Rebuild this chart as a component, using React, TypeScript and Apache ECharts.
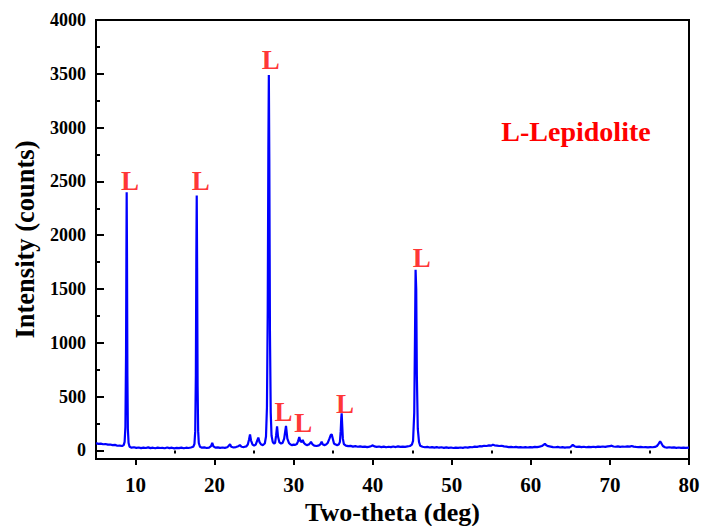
import React, { useEffect, useRef } from "react";
import * as echarts from "echarts";

// [two-theta (deg), intensity (counts)]
const xrdPattern: [number, number][] = [
  [5.0, 68], [5.3, 62], [5.6, 64], [5.9, 58], [6.2, 60], [6.5, 54], [6.8, 56], [7.1, 50], [7.4, 52], [7.7, 44], [8.0, 46], [8.3, 42], [8.5, 50],
  [8.62, 80], [8.72, 220], [8.8, 900], [8.85, 1900], [8.88, 2400], [8.92, 1800], [8.97, 700], [9.03, 200], [9.12, 70], [9.25, 35],
  [9.5, 26], [9.8, 30], [10.1, 24], [10.4, 28], [10.7, 22], [11.0, 27], [11.3, 23], [11.6, 29], [11.9, 22], [12.2, 26], [12.5, 21], [12.8, 27],
  [13.1, 23], [13.4, 25], [13.7, 21], [14.0, 28], [14.3, 22], [14.6, 26], [14.9, 20], [15.2, 25], [15.5, 22], [15.8, 27], [16.1, 21], [16.4, 26],
  [16.7, 23], [17.0, 28], [17.3, 35], [17.45, 60],
  [17.55, 180], [17.63, 700], [17.69, 1800], [17.74, 2370], [17.79, 1700], [17.85, 600], [17.92, 180], [18.0, 70], [18.15, 35],
  [18.4, 26], [18.7, 29], [19.0, 23], [19.3, 27], [19.55, 40], [19.7, 70], [19.85, 38], [20.1, 26], [20.4, 29], [20.7, 24], [21.0, 28],
  [21.3, 25], [21.6, 30], [21.8, 45], [21.95, 58], [22.1, 35], [22.4, 28], [22.7, 32], [23.0, 40], [23.2, 50], [23.4, 35], [23.7, 32],
  [24.0, 38], [24.2, 55], [24.35, 100], [24.48, 150], [24.6, 95], [24.8, 55], [25.0, 45], [25.2, 55], [25.35, 85], [25.53, 120], [25.7, 75],
  [25.9, 55], [26.1, 50], [26.35, 65], [26.5, 130], [26.62, 400], [26.72, 1300], [26.8, 2800], [26.86, 3490], [26.92, 2700], [27.0, 1100],
  [27.1, 350], [27.2, 140], [27.35, 80], [27.5, 65], [27.65, 70], [27.78, 140], [27.9, 225], [28.02, 130], [28.2, 75], [28.4, 65], [28.6, 70],
  [28.8, 110], [29.03, 228], [29.2, 110], [29.4, 70], [29.6, 55], [29.8, 50], [30.0, 55], [30.2, 52], [30.4, 60], [30.55, 85], [30.71, 125],
  [30.85, 85], [31.0, 80], [31.14, 98], [31.3, 70], [31.5, 55], [31.7, 50], [31.9, 55], [32.05, 65], [32.19, 80], [32.35, 60], [32.6, 45],
  [32.9, 42], [33.2, 48], [33.4, 60], [33.54, 82], [33.7, 55], [33.9, 50], [34.1, 55], [34.3, 70], [34.5, 105], [34.7, 145], [34.81, 150],
  [34.95, 110], [35.1, 65], [35.3, 55], [35.5, 50], [35.7, 55], [35.85, 80], [35.95, 180], [36.02, 300], [36.07, 345], [36.13, 250],
  [36.22, 110], [36.35, 60], [36.6, 45], [36.9, 40], [37.2, 43], [37.5, 36], [37.8, 40], [38.1, 35], [38.4, 38], [38.7, 33], [39.0, 36],
  [39.3, 31], [39.6, 36], [39.85, 42], [40.0, 48], [40.2, 38], [40.5, 33], [40.8, 37], [41.1, 32], [41.4, 36], [41.7, 30], [42.0, 35],
  [42.3, 31], [42.6, 37], [42.9, 32], [43.2, 38], [43.5, 33], [43.8, 36], [44.1, 34], [44.4, 38], [44.7, 42], [44.95, 55], [45.1, 90],
  [45.25, 350], [45.35, 1100], [45.42, 1680], [45.5, 1500], [45.58, 700], [45.7, 200], [45.85, 80], [46.0, 45], [46.3, 35], [46.6, 30],
  [46.9, 33], [47.2, 28], [47.5, 32], [47.8, 27], [48.1, 31], [48.4, 26], [48.7, 30], [49.0, 25], [49.3, 29], [49.6, 24], [49.9, 28],
  [50.2, 23], [50.5, 27], [50.8, 24], [51.1, 28], [51.4, 25], [51.7, 30], [52.0, 27], [52.3, 32], [52.6, 30], [52.9, 36], [53.2, 34],
  [53.5, 40], [53.8, 38], [54.1, 44], [54.4, 42], [54.7, 48], [55.0, 45], [55.2, 54], [55.4, 48], [55.7, 46], [56.0, 42], [56.3, 44],
  [56.6, 38], [56.9, 36], [57.2, 32], [57.5, 34], [57.8, 30], [58.1, 33], [58.4, 29], [58.7, 32], [59.0, 28], [59.3, 31], [59.6, 28],
  [59.9, 32], [60.2, 29], [60.5, 34], [60.8, 31], [61.1, 36], [61.4, 42], [61.6, 52], [61.78, 62], [61.95, 48], [62.2, 40], [62.5, 36],
  [62.8, 32], [63.1, 30], [63.4, 33], [63.7, 28], [64.0, 31], [64.3, 27], [64.6, 30], [64.9, 29], [65.1, 38], [65.3, 52], [65.5, 40],
  [65.8, 33], [66.1, 36], [66.4, 31], [66.7, 35], [67.0, 30], [67.3, 34], [67.6, 31], [67.9, 35], [68.2, 32], [68.5, 36], [68.8, 33],
  [69.1, 37], [69.4, 34], [69.7, 38], [70.0, 40], [70.2, 45], [70.45, 37], [70.7, 35], [71.0, 38], [71.3, 34], [71.6, 37], [71.9, 35],
  [72.2, 38], [72.5, 36], [72.75, 42], [73.0, 36], [73.3, 33], [73.6, 31], [73.9, 33], [74.2, 30], [74.5, 32], [74.8, 29], [75.1, 31],
  [75.4, 30], [75.7, 33], [75.95, 42], [76.15, 62], [76.35, 84], [76.5, 68], [76.7, 42], [76.95, 30], [77.2, 27], [77.5, 30], [77.8, 26],
  [78.1, 29], [78.4, 25], [78.7, 28], [79.0, 24], [79.3, 27], [79.6, 25], [80.0, 26],
];

// phase markers: [two-theta, counts, text]
const peakMarks: [number, number, string][] = [
  [9.3, 2503, "L"],
  [18.24, 2503, "L"],
  [27.1, 3630, "L"],
  [28.7, 356, "L"],
  [31.2, 253, "L"],
  [36.5, 433, "L"],
  [46.2, 1792, "L"],
];

const phaseNote = "L-Lepidolite";
const xTitle = "Two-theta (deg)";
const yTitle = "Intensity (counts)";
const xMajorTicks = [10, 20, 30, 40, 50, 60, 70, 80];
const xMinorTicks = [5, 15, 25, 35, 45, 55, 65, 75];
const yMajorTicks = [0, 500, 1000, 1500, 2000, 2500, 3000, 3500, 4000];
const yMinorTicks = [250, 750, 1250, 1750, 2250, 2750, 3250, 3750];

export default function App() {
  const ref = useRef<HTMLDivElement>(null);
  useEffect(() => {
    document.body.style.margin = "0";
    const chart = echarts.init(ref.current!, null, { renderer: "svg" });
    const font = '"Liberation Serif", "Times New Roman", serif';
    const gridPos = { left: 96, right: 13, top: 20, bottom: 67, containLabel: false, outerBoundsMode: "none" };
    const black = "#000000";
    chart.setOption({
      animation: false,
      grid: [
        { ...gridPos, show: true, borderColor: black, borderWidth: 2, backgroundColor: "transparent" },
        { ...gridPos },
      ],
      xAxis: [
        {
          gridIndex: 0,
          type: "value",
          min: 5,
          max: 80,
          name: xTitle,
          nameLocation: "middle",
          nameGap: 37,
          nameTextStyle: { fontFamily: font, fontWeight: "bold", fontSize: 26, color: black },
          axisLine: { show: true, onZero: false, lineStyle: { color: black, width: 2 } },
          axisTick: { show: true, inside: false, length: 6, customValues: xMajorTicks, lineStyle: { color: black, width: 2 } },
          axisLabel: {
            customValues: xMajorTicks,
            formatter: (v: number) => String(v),
            margin: 15,
            fontFamily: font,
            fontWeight: "bold",
            fontSize: 21,
            color: black,
          },
          splitLine: { show: false },
        },
        {
          gridIndex: 1,
          type: "value",
          min: 5,
          max: 80,
          axisLine: { show: false },
          axisTick: { show: true, inside: false, length: 3, customValues: xMinorTicks, lineStyle: { color: black, width: 2 } },
          axisLabel: { show: false },
          splitLine: { show: false },
        },
      ],
      yAxis: [
        {
          gridIndex: 0,
          type: "value",
          min: -79,
          max: 4000,
          name: yTitle,
          nameLocation: "middle",
          nameGap: 58,
          nameRotate: 90,
          nameTextStyle: { fontFamily: font, fontWeight: "bold", fontSize: 26.5, color: black },
          axisLine: { show: true, onZero: false, lineStyle: { color: black, width: 2 } },
          axisTick: { show: true, inside: true, length: 8, customValues: yMajorTicks, lineStyle: { color: black, width: 2 } },
          axisLabel: {
            customValues: yMajorTicks,
            formatter: (v: number) => String(v),
            margin: 10,
            fontFamily: font,
            fontWeight: "bold",
            fontSize: 18,
            color: black,
          },
          splitLine: { show: false },
        },
        {
          gridIndex: 1,
          type: "value",
          min: -79,
          max: 4000,
          axisLine: { show: false },
          axisTick: { show: true, inside: true, length: 4, customValues: yMinorTicks, lineStyle: { color: black, width: 2 } },
          axisLabel: { show: false },
          splitLine: { show: false },
        },
      ],
      graphic: [
        {
          type: "text",
          x: 576,
          y: 131,
          style: {
            text: phaseNote,
            align: "center",
            verticalAlign: "middle",
            fill: "#ff0000",
            font: `bold 28px ${font}`,
          },
        },
      ],
      series: [
        {
          type: "line",
          xAxisIndex: 0,
          yAxisIndex: 0,
          data: xrdPattern,
          showSymbol: false,
          symbol: "none",
          silent: true,
          lineStyle: { color: "#0000ff", width: 2.2 },
        },
        {
          type: "scatter",
          xAxisIndex: 0,
          yAxisIndex: 0,
          symbolSize: 1,
          silent: true,
          itemStyle: { color: "rgba(0,0,0,0)" },
          data: peakMarks.map((p) => ({ value: [p[0], p[1]], name: p[2] })),
          label: {
            show: true,
            position: "inside",
            formatter: "{b}",
            color: "#ff0000",
            fontFamily: font,
            fontWeight: "bold",
            fontSize: 27,
          },
        },
      ],
    });
    return () => chart.dispose();
  }, []);
  return <div ref={ref} style={{ width: 702, height: 526 }} />;
}
